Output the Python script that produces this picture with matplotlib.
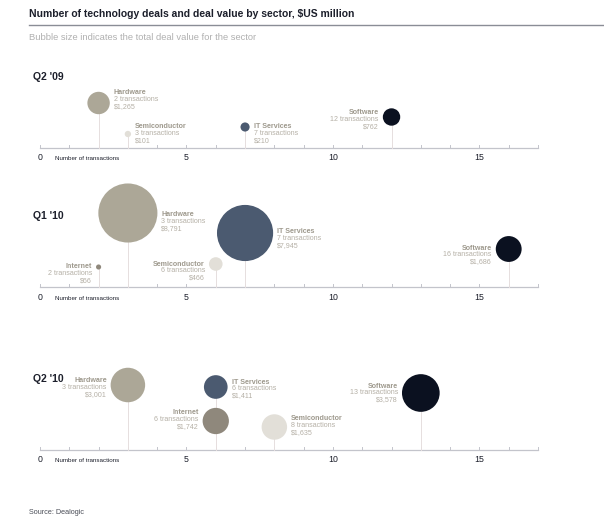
import numpy as np
import matplotlib.pyplot as plt

plt.rcParams['font.family'] = ['Liberation Sans', 'DejaVu Sans']

# --- data -------------------------------------------------------------
quarters = ["Q2 '09", "Q1 '10", "Q2 '10"]

q2_09_sectors = ["Hardware", "Semiconductor", "IT Services", "Software"]
q2_09_deals = [2, 3, 7, 12]
q2_09_values = [1265, 101, 210, 762]

q1_10_sectors = ["Internet", "Hardware", "Semiconductor", "IT Services", "Software"]
q1_10_deals = [2, 3, 6, 7, 16]
q1_10_values = [66, 8791, 466, 7945, 1686]

q2_10_sectors = ["Hardware", "IT Services", "Internet", "Semiconductor", "Software"]
q2_10_deals = [3, 6, 6, 8, 13]
q2_10_values = [3001, 1411, 1742, 1635, 3578]

x_ticks = list(range(0, 18))
x_tick_labels = ["0", "5", "10", "15"]

# --- layout (pixels) --------------------------------------------------
# bubble height above the axis line, label side, label shift up
q2_09_heights = [45, 14, 21, 31]
q2_09_sides = ["right", "right", "right", "left"]
q2_09_shift = [10, 7, 0, 4]

q1_10_heights = [20, 74, 23, 54, 38]
q1_10_sides = ["left", "right", "left", "right", "left"]
q1_10_shift = [0, -2, 0, 1, 1]

q2_10_heights = [65, 63, 29, 23, 57]
q2_10_sides = ["left", "right", "left", "right", "left"]
q2_10_shift = [4, 5, 8, 8, 7]

axis_lines_px = [148, 287, 450]

colors = {
    "Hardware": "#aca797",
    "Semiconductor": "#e2dfd8",
    "IT Services": "#4b5a70",
    "Software": "#0b1120",
    "Internet": "#8f887c",
}
name_color = "#9e998d"
detail_color = "#b5b0a6"
stem_color = "#e6dede"
axis_color = "#c3c4cb"
dark = "#1c1f2b"

W, H = 604, 522
PANEL_H = 100
K = 0.315  # bubble radius in px per sqrt($m)

fig = plt.figure(figsize=(W / 100, H / 100), dpi=100)
fig.patch.set_facecolor("white")

# header
fig.text(29 / W, 1 - 14 / H, "Number of technology deals and deal value by sector, $US million",
         fontsize=7.5, fontweight="bold", color=dark, va="center", ha="left")
fig.add_artist(plt.Line2D([29 / W, 1], [1 - 24.5 / H] * 2, color="#8a8d96", lw=1.0))
fig.text(29 / W, 1 - 38 / H, "Bubble size indicates the total deal value for the sector",
         fontsize=6.75, color="#b0b0b0", va="center", ha="left")
fig.text(29 / W, 1 - 512 / H, "Source: Dealogic",
         fontsize=5.2, color="#4a4d57", va="center", ha="left")

panels = [
    (q2_09_sectors, q2_09_deals, q2_09_values, q2_09_heights, q2_09_sides, q2_09_shift),
    (q1_10_sectors, q1_10_deals, q1_10_values, q1_10_heights, q1_10_sides, q1_10_shift),
    (q2_10_sectors, q2_10_deals, q2_10_values, q2_10_heights, q2_10_sides, q2_10_shift),
]

for quarter, yline, (sectors, deals, values, heights, sides, shifts) in zip(quarters, axis_lines_px, panels):
    ax = fig.add_axes([40 / W, (H - yline) / H, 498 / W, PANEL_H / H])
    ax.set_xlim(0, 17)
    ax.set_ylim(0, PANEL_H)
    ax.axis("off")

    # axis line and ticks
    ax.plot([0, 17], [0, 0], color=axis_color, lw=0.9, clip_on=False, zorder=1)
    for t in x_ticks:
        ax.plot([t, t], [0, 3], color=axis_color, lw=0.7, clip_on=False, zorder=1)
    for lab in x_tick_labels:
        ax.annotate(lab, xy=(int(lab), 0), xytext=(0, -10), textcoords="offset pixels",
                    ha="center", va="center", fontsize=6.3, color=dark)
    ax.annotate("Number of transactions", xy=(0, 0), xytext=(15, -11), textcoords="offset pixels",
                ha="left", va="center", fontsize=4.5, color=dark)

    # quarter title
    fig.text(33 / W, 1 - (yline - 71) / H, quarter, fontsize=7.5, fontweight="bold",
             color=dark, va="center", ha="left")

    order = np.argsort(values)[::-1]
    for i in order:
        x, h, v = deals[i], heights[i], values[i]
        r = K * np.sqrt(v)
        s = (2 * r * 0.72) ** 2
        ax.plot([x, x], [0, h], color=stem_color, lw=0.7, zorder=2, clip_on=False)
        ax.scatter([x], [h], s=s, color=colors[sectors[i]], edgecolors="none", zorder=3, clip_on=False)

        dx = r + 4 if sides[i] == "right" else -(r + 4)
        ha = "left" if sides[i] == "right" else "right"
        lines = [sectors[i], f"{deals[i]} transactions", f"${v:,}"]
        for j, txt in enumerate(lines):
            ax.annotate(txt, xy=(x, h), xytext=(dx, shifts[i] - 6.8 * j), textcoords="offset pixels",
                        ha=ha, va="center", fontsize=5.1,
                        fontweight="bold" if j == 0 else "normal",
                        color=name_color if j == 0 else detail_color, zorder=4)

fig.savefig("out.png", dpi=100)
